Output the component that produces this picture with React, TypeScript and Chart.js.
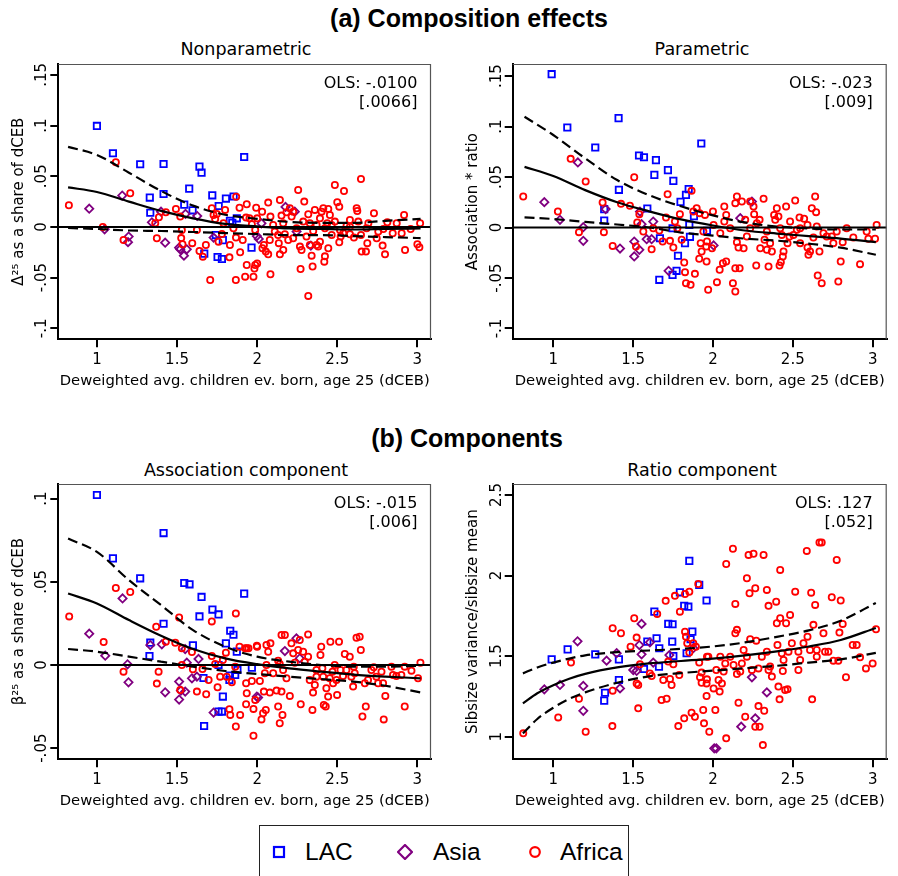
import React, { useEffect, useRef } from 'react';
import { Chart, registerables } from 'chart.js';

Chart.register(...registerables);

type Pt = [number, number];

const FONT = "'DejaVu Sans', sans-serif";
const BOLD_FONT = "'Liberation Sans', Arial, sans-serif";

// ---------- axis ticks ----------
const xTickValues = [1, 1.5, 2, 2.5, 3];
const xTickLabels = ['1', '1.5', '2', '2.5', '3'];
const shareTickValues = [-0.1, -0.05, 0, 0.05, 0.1, 0.15];
const shareTickLabels = ['-.1', '-.05', '0', '.05', '.1', '.15'];
const assocTickValues = [-0.05, 0, 0.05, 0.1];
const assocTickLabels = ['-.05', '0', '.05', '.1'];
const ratioTickValues = [1, 1.5, 2, 2.5];
const ratioTickLabels = ['1', '1.5', '2', '2.5'];

const xTitle = 'Deweighted avg. children ev. born, age 25 (dCEB)';

// ---------- fitted curves ----------
const fitX = [0.82, 1.0, 1.2, 1.4, 1.6, 1.8, 2.0, 2.2, 2.4, 2.6, 2.8, 3.02];
const npFit = [0.039, 0.0345, 0.025, 0.0158, 0.0085, 0.003, 0.0005, -0.0015, -0.002, -0.0025, -0.002, -0.0015];
const npUpper = [0.079, 0.071, 0.0535, 0.0355, 0.021, 0.012, 0.008, 0.005, 0.004, 0.004, 0.006, 0.008];
const npLower = [-0.001, -0.002, -0.0035, -0.004, -0.005, -0.006, -0.007, -0.008, -0.008, -0.009, -0.01, -0.011];

const pFit = [0.06, 0.051, 0.037, 0.025, 0.016, 0.008, 0.002, -0.003, -0.006, -0.0085, -0.011, -0.0145];
const pUpper = [0.1097, 0.0916, 0.0685, 0.047, 0.032, 0.021, 0.012, 0.005, 0.001, -0.001, -0.002, -0.002];
const pLower = [0.0101, 0.0084, 0.0055, 0.003, 0.0, -0.005, -0.008, -0.011, -0.013, -0.016, -0.02, -0.027];

const aFit = [0.043, 0.037, 0.027, 0.0176, 0.0096, 0.004, 0.0005, -0.002, -0.004, -0.0058, -0.007, -0.008];
const aUpper = [0.076, 0.068, 0.051, 0.036, 0.021, 0.011, 0.005, 0.002, 0.0, -0.001, -0.001, -0.0005];
const aLower = [0.0096, 0.008, 0.005, 0.002, -0.001, -0.0036, -0.0054, -0.007, -0.0085, -0.01, -0.0125, -0.0165];

const ratioFitX = [0.81, 0.9, 1.0, 1.1, 1.2, 1.4, 1.6, 1.8, 2.0, 2.2, 2.4, 2.6, 2.8, 3.02];
const rFit = [1.207, 1.27, 1.32, 1.36, 1.39, 1.43, 1.455, 1.47, 1.485, 1.505, 1.53, 1.56, 1.6, 1.675];
const rUpper = [1.393, 1.43, 1.46, 1.485, 1.505, 1.525, 1.535, 1.545, 1.56, 1.585, 1.62, 1.66, 1.72, 1.83];
const rLower = [1.021, 1.11, 1.18, 1.235, 1.275, 1.335, 1.375, 1.395, 1.41, 1.425, 1.44, 1.46, 1.48, 1.52];

// ---------- (a) Nonparametric ----------
const npLAC: Pt[] = [[1.0,0.0996],[1.10,0.0727],[1.27,0.0618],[1.416,0.0621],[1.64,0.0595],[1.653,0.0536],[1.919,0.069],[1.33,0.029],[1.416,0.0325],[1.333,0.014],[1.545,0.022],[1.576,0.0378],[1.597,0.0164],[1.72,0.0312],[1.76,0.0207],[1.805,0.028],[1.853,0.030],[1.83,0.006],[1.873,0.0085],[1.845,0.004],[1.67,-0.0263],[1.753,-0.0296],[1.78,-0.0316],[1.965,-0.0204],[1.786,-0.013],[1.742,-0.008]];
const npAsia: Pt[] = [[0.952,0.018],[1.048,-0.0023],[1.158,0.031],[1.198,-0.0095],[1.194,-0.015],[1.343,0.0046],[1.40,0.015],[1.426,-0.0155],[1.513,-0.0204],[1.52,-0.022],[1.543,-0.0283],[1.561,-0.022],[1.553,0.0128],[1.626,0.0108],[1.728,-0.0105],[1.998,-0.009],[2.177,0.0197],[2.235,0.015],[2.01,-0.0118],[2.335,-0.0184],[2.027,0.0036],[2.246,-0.0046]];
const npAfrica: Pt[] = [[0.825,0.0214],[1.037,0.0],[1.118,0.0638],[1.208,0.0332],[1.166,-0.0128],[1.374,-0.0112],[1.364,0.0036],[1.387,0.0095],[1.43,0.0145],[1.493,0.0178],[1.52,0.0102],[1.53,-0.003],[1.526,-0.011],[1.534,-0.017],[1.595,-0.016],[1.624,-0.003],[1.64,-0.0237],[1.661,-0.0293],[1.68,-0.0178],[1.707,-0.0523],[1.717,0.0184],[1.728,0.0118],[1.738,0.0079],[1.748,0.0128],[1.759,-0.0145],[1.78,-0.0069],[1.79,0.0036],[1.80,0.0168],[1.83,-0.0178],[1.827,-0.030],[1.852,-0.0013],[1.868,-0.0105],[1.869,0.0299],[1.867,-0.0523],[1.894,-0.025],[1.89,0.019],[1.91,-0.0128],[1.931,0.0092],[1.935,-0.0375],[1.935,0.0224],[1.925,-0.049],[1.977,-0.049],[1.983,-0.041],[1.988,-0.0375],[1.994,0.019],[1.952,0.0085],[1.967,0.0026],[1.988,-0.003],
[2.0,0.0085],[2.0,-0.036],[2.042,-0.0178],[2.054,-0.0243],[2.069,-0.027],[2.033,-0.021],[2.083,-0.0467],[2.069,0.024],[2.083,0.0102],[2.031,0.0151],[2.131,-0.0079],[2.135,-0.016],[2.142,-0.027],[2.163,-0.0227],[2.142,0.0266],[2.152,0.0112],[2.183,0.0145],[2.204,0.0184],[2.215,0.0102],[2.225,0.0151],[2.256,0.0365],[2.294,0.025],[2.319,0.0125],[2.267,-0.0194],[2.277,-0.0227],[2.271,-0.0414],[2.319,-0.068],[2.34,-0.0283],[2.346,-0.039],[2.329,-0.0178],[2.371,-0.0178],[2.381,-0.0194],[2.392,-0.0145],[2.423,-0.029],[2.444,-0.021],[2.419,-0.0342],[2.392,0.0085],[2.402,0.0151],[2.413,0.0184],[2.444,0.0178],[2.4375,0.0036],[2.465,-0.0079],[2.485,0.0053],[2.485,0.0414],[2.542,0.0355],[2.5,0.0243],[2.5125,0.02],[2.517,-0.003],[2.5125,-0.0151],[2.521,-0.0095],[2.579,0.0069],[2.579,0.0003],[2.604,-0.0105],[2.621,0.0184],[2.625,0.0158],[2.631,0.0053],[2.648,-0.0079],[2.648,0.0473],[2.652,-0.0243],[2.679,-0.0243],[2.6875,-0.016],[2.729,0.0135],[2.746,-0.0112],[2.783,-0.0184],[2.798,-0.027],[2.8125,0.0046],[2.846,-0.0062],[2.871,0.0036],[2.902,-0.0062],[2.917,0.0118],[2.923,-0.0227],[2.958,-0.002],[3.0,-0.0171],[3.0125,-0.02],[3.017,0.0036],[2.756,-0.0046],[2.7875,-0.002],[2.683,-0.0013],[2.694,0.0036],[2.579,-0.0072],[2.5375,-0.0062],[2.558,0.0013],[2.465,0.002],[2.423,-0.0013],[2.371,0.002],[2.35,-0.004],[2.308,-0.0095],[2.246,-0.0013],[2.225,-0.0112],[2.194,-0.0128],[2.173,-0.0072],[2.11,-0.0046],[2.079,-0.0128],[2.1,0.002],[2.1625,0.0036],[2.2875,0.0053],[2.329,0.0036],[2.454,0.0118],[2.36,0.0168]];

// ---------- (a) Parametric ----------
const pLAC: Pt[] = [[0.99,0.1518],[1.088,0.099],[1.263,0.0792],[1.409,0.1083],[1.411,0.0373],[1.319,0.0182],[1.319,0.0069],[1.537,0.0713],[1.568,0.0696],[1.643,0.0667],[1.633,0.0521],[1.718,0.0568],[1.752,0.0462],[1.589,0.0188],[1.797,0.0254],[1.831,0.0323],[1.848,0.038],[1.881,0.0112],[1.852,0.0026],[1.668,-0.0106],[1.664,-0.0518],[1.747,-0.0469],[1.772,-0.0429],[1.781,-0.028],[1.825,-0.0155],[1.856,-0.0092],[1.747,-0.0007],[1.927,0.0832],[1.9625,-0.0033]];
const pAsia: Pt[] = [[0.944,0.0251],[1.042,0.0076],[1.154,0.0644],[1.188,0.0003],[1.188,-0.0132],[1.328,0.0182],[1.418,-0.0208],[1.507,-0.0139],[1.507,-0.0287],[1.539,-0.0221],[1.543,0.0158],[1.553,0.0033],[1.585,-0.0116],[1.616,-0.0116],[1.626,0.0059],[1.722,-0.0429],[2.171,0.0092],[2.004,-0.0178],[2.244,0.0257]];
const pAfrica: Pt[] = [[0.812,0.0307],[1.029,0.0158],[1.109,0.068],[1.203,0.0455],[1.161,-0.0046],[1.309,0.0248],[1.317,-0.0046],[1.372,-0.0182],[1.424,0.0234],[1.48,0.0215],[1.507,0.0498],[1.518,-0.0188],[1.526,0.005],[1.539,0.0132],[1.564,-0.004],[1.616,-0.0215],[1.626,-0.0007],[1.664,-0.003],[1.685,-0.0139],[1.706,0.0099],[1.716,0.033],[1.731,-0.0132],[1.752,-0.0198],[1.762,0.0059],[1.777,-0.0007],[1.793,0.0132],[1.804,-0.0122],[1.82,-0.0347],[1.825,-0.0442],[1.831,-0.0551],[1.86,-0.0568],[1.887,-0.0459],[1.866,0.0363],[1.877,0.0158],[1.898,0.0191],[1.916,0.0142],[1.923,-0.0155],[1.929,-0.0238],[1.914,-0.031],[1.95,0.0125],[1.96,-0.0337],[1.97,-0.0617],[1.94,-0.004],
[1.994,-0.0205],[2.0,0.0158],[2.025,-0.0541],[2.042,-0.0419],[2.0625,-0.0353],[2.083,-0.0337],[2.071,0.0208],[2.071,0.0059],[2.083,0.0125],[2.125,-0.0551],[2.14,-0.0634],[2.14,-0.0403],[2.15,-0.0145],[2.14,0.0241],[2.15,0.0307],[2.181,0.0257],[2.167,-0.0403],[2.16,-0.0198],[2.192,-0.0205],[2.202,0.0076],[2.2125,-0.0089],[2.233,0.0257],[2.254,0.0208],[2.258,0.0132],[2.271,-0.0376],[2.275,0.0043],[2.292,0.0076],[2.296,-0.0205],[2.317,0.0284],[2.323,-0.0122],[2.3375,-0.0221],[2.348,-0.0386],[2.358,-0.0155],[2.369,-0.0238],[2.383,0.0125],[2.39,0.0076],[2.4,0.0191],[2.41,0.0109],[2.417,-0.0376],[2.425,-0.0343],[2.4375,-0.0287],[2.442,-0.0238],[2.431,-0.0073],[2.458,0.0208],[2.467,-0.0155],[2.479,-0.0089],[2.483,0.0059],[2.515,0.0267],[2.525,-0.0023],[2.542,0.0099],[2.546,-0.0155],[2.571,0.0086],[2.592,0.0026],[2.592,-0.0198],[2.598,-0.0271],[2.608,-0.0238],[2.619,0.0191],[2.64,0.0307],[2.646,0.0152],[2.65,0.001],[2.656,-0.0475],[2.667,-0.0238],[2.681,-0.0551],[2.692,-0.0056],[2.7125,-0.0089],[2.744,-0.0089],[2.754,-0.0155],[2.775,-0.004],[2.785,-0.0535],[2.8,-0.0337],[2.8125,-0.0145],[2.8375,-0.0007],[2.879,-0.0099],[2.921,-0.0363],[2.9625,-0.004],[2.973,-0.0112],[3.015,-0.0112],[3.025,0.0026],[2.004,0.0026],[2.046,-0.0056],[2.108,-0.0007],[2.233,-0.0007],[2.3375,-0.004],[2.421,-0.0007],[2.504,-0.0073],[2.546,-0.0007],[2.629,-0.0099],[1.9625,-0.0139],[1.958,-0.0188]];

// ---------- (b) Association component ----------
const aLAC: Pt[] = [[1.0,0.1022],[1.10,0.0641],[1.27,0.0521],[1.416,0.0793],[1.416,0.0248],[1.333,0.0134],[1.328,0.0054],[1.545,0.0493],[1.578,0.0485],[1.653,0.0409],[1.64,0.0292],[1.599,0.0118],[1.721,0.0333],[1.759,0.0304],[1.805,0.013],[1.832,0.0206],[1.852,0.0182],[1.873,0.008],[1.919,0.0429],[1.665,-0.0078],[1.759,0.0],[1.786,-0.019],[1.759,-0.028],[1.78,-0.028],[1.669,-0.0367],[1.827,-0.009],[1.863,-0.006],[1.877,-0.003],[1.967,-0.0016],[1.83,-0.0064]];
const aAsia: Pt[] = [[0.952,0.0188],[1.052,0.0056],[1.16,0.04],[1.191,0.0004],[1.197,-0.0104],[1.333,0.012],[1.405,0.0124],[1.426,-0.0164],[1.513,-0.01],[1.513,-0.0208],[1.524,-0.0154],[1.551,-0.016],[1.561,0.0014],[1.593,-0.008],[1.624,-0.007],[1.634,0.0036],[1.728,-0.0286],[1.551,0.0096],[1.998,-0.019],[2.173,0.0084],[2.245,0.016],[2.006,-0.0196],[2.266,0.004]];
const aAfrica: Pt[] = [[0.827,0.0292],[1.042,0.0138],[1.118,0.0463],[1.208,0.0439],[1.166,-0.004],[1.374,-0.0112],[1.385,-0.004],[1.37,0.023],[1.43,0.014],[1.489,0.0134],[1.513,0.0286],[1.53,0.01],[1.53,0.0],[1.52,-0.015],[1.593,0.0078],[1.599,-0.0026],[1.624,-0.016],[1.659,-0.0024],[1.682,-0.0176],[1.697,-0.009],[1.717,0.0262],[1.717,0.0054],[1.738,0.0006],[1.753,-0.0134],[1.769,-0.007],[1.786,0.003],[1.805,0.0074],[1.81,-0.007],[1.827,-0.0266],[1.832,-0.03],[1.842,-0.0104],[1.867,0.031],[1.867,-0.037],[1.863,-0.001],[1.894,-0.03],[1.89,0.011],[1.925,0.01],[1.935,0.01],[1.946,0.01],[1.931,-0.011],[1.935,-0.017],[1.931,-0.0236],[1.967,-0.0096],[1.977,-0.0425],[1.977,-0.0264],[1.988,-0.021],[1.998,0.0116],
[2.027,-0.0327],[2.037,-0.029],[2.054,-0.027],[2.042,-0.016],[2.079,-0.0166],[2.048,-0.005],[2.058,0.0],[2.0,0.011],[2.058,0.012],[2.069,0.008],[2.083,0.013],[2.131,0.0026],[2.141,0.0006],[2.121,-0.0154],[2.131,-0.025],[2.141,-0.035],[2.152,-0.016],[2.158,-0.03],[2.152,0.018],[2.173,0.018],[2.162,-0.003],[2.204,-0.0186],[2.214,0.013],[2.225,0.007],[2.235,0.0014],[2.256,0.009],[2.266,0.015],[2.272,-0.0236],[2.287,0.008],[2.297,0.002],[2.318,0.0184],[2.318,0.005],[2.328,-0.009],[2.345,-0.027],[2.349,-0.0166],[2.36,-0.012],[2.37,-0.003],[2.395,0.006],[2.4,0.011],[2.407,-0.002],[2.412,-0.007],[2.416,-0.024],[2.428,-0.025],[2.432,-0.014],[2.443,-0.019],[2.453,-0.008],[2.457,0.014],[2.47,-0.004],[2.474,-0.011],[2.484,0.0],[2.499,-0.018],[2.511,0.014],[2.52,-0.003],[2.536,-0.0066],[2.547,0.0066],[2.557,-0.003],[2.578,0.005],[2.588,-0.007],[2.599,-0.013],[2.609,-0.005],[2.62,0.0164],[2.64,0.017],[2.647,0.009],[2.603,-0.001],[2.657,-0.031],[2.678,-0.025],[2.672,-0.011],[2.692,-0.009],[2.713,-0.003],[2.728,-0.0014],[2.755,-0.011],[2.776,-0.004],[2.786,-0.011],[2.79,-0.0327],[2.8,-0.0186],[2.838,-0.001],[2.869,-0.0066],[2.9,-0.006],[2.921,-0.025],[2.921,-0.001],[2.963,-0.0034],[3.004,-0.008],[3.019,0.0014],[2.017,-0.0096],[2.1,-0.005],[2.183,-0.008],[2.37,-0.007],[2.495,-0.009],[2.744,-0.007],[2.848,-0.006]];

// ---------- (b) Ratio component ----------
const rLAC: Pt[] = [[0.99,1.48],[1.09,1.542],[1.263,1.511],[1.411,1.48],[1.411,1.352],[1.324,1.273],[1.319,1.224],[1.568,1.42],[1.589,1.59],[1.633,1.776],[1.647,1.611],[1.664,1.549],[1.662,1.435],[1.72,1.7],[1.747,1.698],[1.745,1.59],[1.752,1.501],[1.793,1.896],[1.82,1.812],[1.846,1.807],[1.852,2.091],[1.871,1.652],[1.86,1.605],[1.835,1.518],[1.914,1.942],[1.96,1.845]];
const rAsia: Pt[] = [[0.944,1.294],[1.042,1.321],[1.152,1.592],[1.188,1.315],[1.188,1.161],[1.334,1.472],[1.397,1.518],[1.418,1.3],[1.501,1.414],[1.522,1.408],[1.539,1.569],[1.553,1.511],[1.553,1.7],[1.605,1.586],[1.626,1.46],[1.727,1.507],[1.877,1.549],[2.244,1.369],[2.3375,1.275],[2.265,1.114],[2.177,1.062],[2.008,0.928],[2.021,0.928]];
const rAfrica: Pt[] = [[0.812,1.021],[1.031,1.12],[1.111,1.46],[1.203,1.031],[1.161,1.236],[1.37,1.066],[1.372,1.286],[1.372,1.673],[1.424,1.642],[1.484,1.559],[1.507,1.735],[1.522,1.615],[1.522,1.331],[1.532,1.321],[1.532,1.176],[1.543,1.449],[1.605,1.393],[1.616,1.377],[1.651,1.762],[1.678,1.228],[1.689,1.352],[1.71,1.236],[1.704,1.843],[1.72,1.466],[1.731,1.358],[1.741,1.321],[1.752,1.449],[1.762,1.874],[1.783,1.066],[1.789,1.383],[1.793,1.776],[1.82,1.114],[1.825,1.886],[1.825,1.652],[1.831,1.621],[1.839,1.58],[1.852,1.9],[1.852,1.522],[1.866,1.149],[1.877,1.58],[1.887,1.124],[1.893,1.559],[1.908,1.948],[1.914,1.46],[1.919,1.369],[1.929,1.398],[1.929,1.335],[1.939,1.166],[1.944,1.083],[1.96,1.253],[1.977,1.031],[1.971,1.497],[1.96,1.331],
[2.004,1.3],[2.021,1.414],[2.035,1.352],[2.042,1.28],[2.056,1.331],[2.067,1.404],[2.077,1.455],[2.083,2.072],[2.083,0.99],[2.125,2.166],[2.129,1.445],[2.14,1.824],[2.14,1.642],[2.15,1.663],[2.15,1.389],[2.16,1.211],[2.171,1.404],[2.192,1.538],[2.202,1.124],[2.2125,1.983],[2.223,2.128],[2.229,1.89],[2.233,1.605],[2.244,1.414],[2.254,2.135],[2.265,1.921],[2.271,1.596],[2.265,1.062],[2.285,1.19],[2.292,1.062],[2.306,1.497],[2.317,2.128],[2.3125,0.948],[2.321,1.161],[2.3375,1.911],[2.348,1.812],[2.348,1.414],[2.358,1.435],[2.369,1.373],[2.396,1.838],[2.4,1.704],[2.404,1.569],[2.41,1.311],[2.421,2.035],[2.421,1.735],[2.417,1.232],[2.431,1.518],[2.4375,1.408],[2.452,1.29],[2.458,1.704],[2.467,1.294],[2.473,1.528],[2.483,1.756],[2.494,1.58],[2.515,1.9],[2.535,1.414],[2.535,1.528],[2.567,1.58],[2.5875,2.153],[2.592,1.621],[2.608,1.538],[2.615,1.894],[2.621,1.232],[2.629,1.694],[2.64,1.818],[2.65,1.538],[2.667,2.205],[2.681,2.205],[2.692,1.642],[2.702,1.528],[2.723,1.528],[2.744,1.865],[2.754,1.472],[2.775,2.097],[2.785,1.472],[2.792,1.646],[2.8,1.845],[2.8125,1.7],[2.833,1.369],[2.875,1.569],[2.9,1.569],[2.921,1.493],[2.958,1.424],[3.0,1.455],[3.021,1.667],[2.108,1.497],[2.046,1.497],[1.9625,1.497],[2.2125,1.497],[2.3375,1.528],[2.442,1.476],[2.546,1.476],[2.65,1.497],[2.285,1.424],[2.181,1.455],[1.9625,1.356],[2.015,1.166]];

// ---------- panel definitions ----------
interface Spec {
  lac: Pt[]; asia: Pt[]; africa: Pt[];
  fx: number[]; fit: number[]; upper: number[]; lower: number[];
  yTicks: number[]; yLabels: string[]; yTitle: string;
  ols: string; se: string;
  xMin: number; xMax: number; yMin: number; yMax: number;
  zero: boolean; yAxisW: number; yTitlePad: number; rightPad: number;
}

const leftAxis = { xMin: 0.759, xMax: 3.085, yAxisW: 58.3, yTitlePad: 10, rightPad: 18 };
const rightAxis = { xMin: 0.746, xMax: 3.088, yAxisW: 63.7, yTitlePad: 15.5, rightPad: 11.3 };

const panels: { spec: Spec; left: number; top: number; title: string; cx: number; cy: number }[] = [
  {
    left: 0, top: 40, title: 'Nonparametric', cx: 246, cy: 49,
    spec: { lac: npLAC, asia: npAsia, africa: npAfrica, fx: fitX, fit: npFit, upper: npUpper, lower: npLower,
      yTicks: shareTickValues, yLabels: shareTickLabels, yTitle: 'Δ²⁵ as a share of dCEB', ols: 'OLS: -.0100', se: '[.0066]',
      yMin: -0.1108, yMax: 0.1607, zero: true, ...leftAxis },
  },
  {
    left: 449, top: 40, title: 'Parametric', cx: 702, cy: 49,
    spec: { lac: pLAC, asia: pAsia, africa: pAfrica, fx: fitX, fit: pFit, upper: pUpper, lower: pLower,
      yTicks: shareTickValues, yLabels: shareTickLabels, yTitle: 'Association * ratio', ols: 'OLS: -.023', se: '[.009]',
      yMin: -0.1107, yMax: 0.1619, zero: true, ...rightAxis },
  },
  {
    left: 0, top: 460, title: 'Association component', cx: 246, cy: 470,
    spec: { lac: aLAC, asia: aAsia, africa: aAfrica, fx: fitX, fit: aFit, upper: aUpper, lower: aLower,
      yTicks: assocTickValues, yLabels: assocTickLabels, yTitle: 'β²⁵ as a share of dCEB', ols: 'OLS: -.015', se: '[.006]',
      yMin: -0.0567, yMax: 0.1088, zero: true, ...leftAxis },
  },
  {
    left: 449, top: 460, title: 'Ratio component', cx: 702, cy: 470,
    spec: { lac: rLAC, asia: rAsia, africa: rAfrica, fx: ratioFitX, fit: rFit, upper: rUpper, lower: rLower,
      yTicks: ratioTickValues, yLabels: ratioTickLabels, yTitle: 'Sibsize variance/sibsize mean', ols: 'OLS: .127', se: '[.052]',
      yMin: 0.86, yMax: 2.568, zero: false, ...rightAxis },
  },
];

const CW = 449;
const CH = 360;

function buildChart(canvas: HTMLCanvasElement, spec: Spec) {
  const toXY = (pts: Pt[]) => pts.map(([x, y]) => ({ x, y }));
  const curve = (ys: number[]) => spec.fx.map((x, i) => ({ x, y: ys[i] }));
  const lineBase = { showLine: true, pointRadius: 0, pointHoverRadius: 0, borderColor: '#000', borderWidth: 2.2, fill: false, order: 0 };
  const datasets: any[] = [];
  if (spec.zero) {
    datasets.push({ ...lineBase, borderWidth: 2, data: [{ x: spec.xMin, y: 0 }, { x: spec.xMax, y: 0 }] });
  }
  datasets.push({ ...lineBase, data: curve(spec.fit), cubicInterpolationMode: 'monotone' });
  datasets.push({ ...lineBase, data: curve(spec.upper), borderDash: [10, 5], cubicInterpolationMode: 'monotone' });
  datasets.push({ ...lineBase, data: curve(spec.lower), borderDash: [10, 5], cubicInterpolationMode: 'monotone' });
  const pointBase = { showLine: false, backgroundColor: 'rgba(0,0,0,0)', borderWidth: 1.8, pointHoverRadius: 0 };
  datasets.push({ ...pointBase, data: toXY(spec.africa), pointStyle: 'circle', pointRadius: 3.1, borderColor: '#ff0000', order: 1 });
  datasets.push({ ...pointBase, data: toXY(spec.asia), pointStyle: 'rectRot', pointRadius: 4.1, borderColor: '#800080', order: 2 });
  datasets.push({ ...pointBase, data: toXY(spec.lac), pointStyle: 'rect', pointRadius: 4.5, borderColor: '#0000ff', order: 3 });

  const decor = {
    id: 'decor',
    afterDraw(chart: any) {
      const { ctx, chartArea: a, scales } = chart;
      ctx.save();
      ctx.strokeStyle = '#555';
      ctx.lineWidth = 1.2;
      ctx.beginPath();
      ctx.moveTo(a.left, a.top + 0.5);
      ctx.lineTo(a.right - 0.5, a.top + 0.5);
      ctx.lineTo(a.right - 0.5, a.bottom);
      ctx.stroke();
      ctx.fillStyle = '#000';
      ctx.font = `15px ${FONT}`;
      ctx.textAlign = 'center';
      ctx.textBaseline = 'middle';
      spec.yTicks.forEach((v, i) => {
        const y = scales.y.getPixelForValue(v);
        ctx.save();
        ctx.translate(a.left - 16, y);
        ctx.rotate(-Math.PI / 2);
        ctx.fillText(spec.yLabels[i], 0, 0);
        ctx.restore();
      });
      ctx.font = `16px ${FONT}`;
      ctx.textAlign = 'right';
      const xr = scales.x.getPixelForValue(3);
      ctx.fillText(spec.ols, xr, a.top + 20);
      ctx.fillText(spec.se, xr, a.top + 38.5);
      ctx.restore();
    },
  };

  const tickGrid = { display: true, drawOnChartArea: false, drawTicks: true, tickLength: 8, color: '#000', lineWidth: 2 };

  return new Chart(canvas, {
    type: 'scatter',
    data: { datasets },
    plugins: [decor],
    options: {
      animation: false,
      responsive: false,
      devicePixelRatio: 1,
      events: [],
      layout: { padding: { top: 24, right: spec.rightPad, bottom: 0, left: 0 } },
      plugins: { legend: { display: false }, tooltip: { enabled: false } },
      scales: {
        x: {
          type: 'linear', position: 'bottom', min: spec.xMin, max: spec.xMax,
          afterBuildTicks: (s: any) => { s.ticks = xTickValues.map((v) => ({ value: v })); },
          afterFit: (s: any) => { s.height = 60.7; },
          grid: tickGrid,
          border: { display: true, color: '#000', width: 2 },
          ticks: {
            autoSkip: false, maxRotation: 0, minRotation: 0, padding: 4, color: '#000',
            font: { family: FONT, size: 15 },
            callback: (v: any) => xTickLabels[xTickValues.indexOf(Number(v))],
          },
          title: { display: true, text: xTitle, color: '#000', font: { family: FONT, size: 14.8 }, padding: { top: 0, bottom: 10 } },
        },
        y: {
          type: 'linear', position: 'left', min: spec.yMin, max: spec.yMax,
          afterBuildTicks: (s: any) => { s.ticks = spec.yTicks.map((v) => ({ value: v })); },
          afterFit: (s: any) => { s.width = spec.yAxisW; },
          grid: tickGrid,
          border: { display: true, color: '#000', width: 2 },
          ticks: { display: false },
          title: { display: true, text: spec.yTitle, color: '#000', font: { family: FONT, size: 15 }, padding: { top: spec.yTitlePad, bottom: 0 } },
        },
      },
    } as any,
  } as any);
}

function Panel({ spec, left, top }: { spec: Spec; left: number; top: number }) {
  const ref = useRef<HTMLCanvasElement>(null);
  useEffect(() => {
    const chart = buildChart(ref.current as HTMLCanvasElement, spec);
    return () => chart.destroy();
  }, [spec]);
  return (
    <canvas
      ref={ref}
      width={CW}
      height={CH}
      style={{ position: 'absolute', left, top, width: CW, height: CH, display: 'block' }}
    />
  );
}

const legendItems = [
  { label: 'LAC', color: '#0000ff', shape: 'square', mx: 279, tx: 305 },
  { label: 'Asia', color: '#800080', shape: 'diamond', mx: 405, tx: 433 },
  { label: 'Africa', color: '#ff0000', shape: 'circle', mx: 535, tx: 560 },
];

function Marker({ shape, color }: { shape: string; color: string }) {
  if (shape === 'square') return <rect x={3} y={3} width={10} height={10} fill="none" stroke={color} strokeWidth={2.2} />;
  if (shape === 'diamond') return <polygon points="8,1 15,8 8,15 1,8" fill="none" stroke={color} strokeWidth={2.2} />;
  return <circle cx={8} cy={8} r={4.8} fill="none" stroke={color} strokeWidth={2.2} />;
}

export default function App() {
  const textStyle = (cx: number, cy: number, size: number, family: string, weight = 'normal'): React.CSSProperties => ({
    position: 'absolute', left: cx - 250, width: 500, top: cy - 15, height: 30, lineHeight: '30px',
    textAlign: 'center', fontSize: size, fontFamily: family, fontWeight: weight as any, color: '#000', whiteSpace: 'nowrap',
  });
  return (
    <div style={{ position: 'absolute', left: 0, top: 0, width: 898, height: 876, background: '#fff', overflow: 'hidden' }}>
      <div style={textStyle(469, 18, 25, BOLD_FONT, 'bold')}>(a) Composition effects</div>
      <div style={textStyle(467, 438, 25, BOLD_FONT, 'bold')}>(b) Components</div>
      {panels.map((p, i) => (
        <div key={'t' + i} style={textStyle(p.cx, p.cy, 17.5, FONT)}>{p.title}</div>
      ))}
      {panels.map((p, i) => (
        <Panel key={'p' + i} spec={p.spec} left={p.left} top={p.top} />
      ))}
      <div style={{ position: 'absolute', left: 259, top: 825, width: 370, height: 52, boxSizing: 'border-box', border: '1.5px solid #222', background: '#fff' }} />
      {legendItems.map((it) => (
        <React.Fragment key={it.label}>
          <svg width={16} height={16} style={{ position: 'absolute', left: it.mx - 8, top: 852 - 8 }}>
            <Marker shape={it.shape} color={it.color} />
          </svg>
          <div style={{ position: 'absolute', left: it.tx, top: 838, height: 28, lineHeight: '28px', fontSize: 24.5, fontFamily: BOLD_FONT, color: '#000', whiteSpace: 'nowrap' }}>
            {it.label}
          </div>
        </React.Fragment>
      ))}
    </div>
  );
}
